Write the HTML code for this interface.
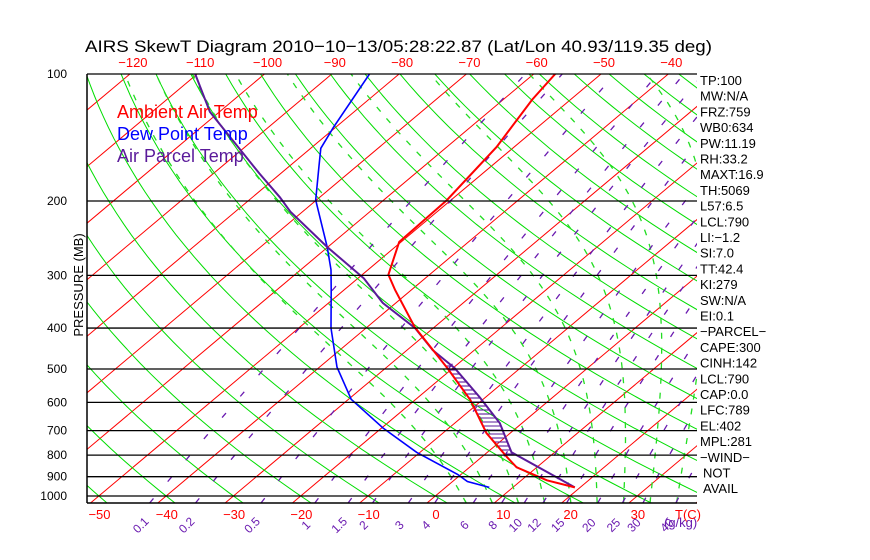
<!DOCTYPE html>
<html><head><meta charset="utf-8"><style>
html,body{margin:0;padding:0;background:#fff;}
svg{display:block;font-family:"Liberation Sans",sans-serif;}
</style></head><body>
<svg id="c" width="870" height="560" viewBox="0 0 870 560" xmlns="http://www.w3.org/2000/svg">
<defs><clipPath id="box"><rect x="87" y="74" width="610" height="429"/></clipPath></defs>
<text x="85" y="52" font-size="17" textLength="627" lengthAdjust="spacingAndGlyphs" fill="#000">AIRS SkewT Diagram 2010−10−13/05:28:22.87 (Lat/Lon 40.93/119.35 deg)</text>
<g id="grid" clip-path="url(#box)"></g>
<g id="series" clip-path="url(#box)"></g>
<g id="axes"></g>
<text x="117" y="118" font-size="18" fill="#ff0000">Ambient Air Temp</text>
<text x="117" y="140" font-size="18" fill="#0000ff">Dew Point Temp</text>
<text x="117" y="162" font-size="18" fill="#5a1a9a">Air Parcel Temp</text>
<text transform="translate(83,285) rotate(-90)" font-size="13" text-anchor="middle" fill="#000">PRESSURE (MB)</text>
<g id="side"></g>
</svg>
<script>
// ---- data ----
const pressureTicks=[100,200,300,400,500,600,700,800,900,1000];
const topTempTicks=[-120,-110,-100,-90,-80,-70,-60,-50,-40];
const bottomTempTicks=[-50,-40,-30,-20,-10,0,10,20,30];
const mixRatios=[0.1,0.2,0.5,1,1.5,2,3,4,6,8,10,12,15,20,25,30,40];
const tempP=[954,918,855,809,710,592,497,398,325,299,250,199,149,115,100];
const tempT=[19.2,13.8,7.0,3.8,-3.5,-11.8,-20.9,-32.9,-42.4,-46.1,-50.3,-50.6,-52.6,-55.7,-56.8];
const dewP=[954,924,889,788,690,590,495,400,325,291,257,199,166,150,134,100];
const dewT=[6.5,2.2,-0.5,-10.5,-19.8,-29.6,-37.4,-45.2,-51.9,-55.5,-60.1,-70.1,-75.5,-78.5,-80.3,-84.4];
const parcelP=[954,788,672,583,498,451,400,349,305,257,212,196,172,123,100];
const parcelT=[19.2,3.6,-3.3,-10.9,-19.7,-26.2,-32.7,-41.9,-49.1,-60.1,-71.8,-75.9,-83.2,-101.4,-110.3];
const sideLabels=["TP:100","MW:N/A","FRZ:759","WB0:634","PW:11.19","RH:33.2","MAXT:16.9","TH:5069","L57:6.5","LCL:790","LI:−1.2","SI:7.0","TT:42.4","KI:279","SW:N/A","EI:0.1","−PARCEL−","CAPE:300","CINH:142","LCL:790","CAP:0.0","LFC:789","EL:402","MPL:281","−WIND−","NOT","AVAIL"];

// ---- axes ----
const NS="http://www.w3.org/2000/svg";
const BOT=503,TOP=74,LEFT=87,RIGHT=697;
function yOf(p){return 74+422*Math.log10(p/100);}
function xOf(T,y){return 427+6.73*T+1.19*(503-y);}
const pBot=100*Math.pow(10,(BOT-74)/422);
function mk(tag,attrs,parent){const e=document.createElementNS(NS,tag);for(const k in attrs)e.setAttribute(k,attrs[k]);parent.appendChild(e);return e;}
const grid=document.getElementById('grid'),series=document.getElementById('series'),axes=document.getElementById('axes'),side=document.getElementById('side');
function pathFromTP(fn,p0,p1,n){let d="";for(let i=0;i<=n;i++){const p=p0*Math.pow(p1/p0,i/n);const T=fn(p);const y=yOf(p);d+=(i?"L":"M")+xOf(T,y).toFixed(1)+","+y.toFixed(1);}return d;}

// isotherms
for(let T=-140;T<=50;T+=10){
  const y0=BOT,y1=TOP;
  const l=mk('line',{x1:xOf(T,y0),y1:y0,x2:xOf(T,y1),y2:y1,stroke:'#ff0000','stroke-width':1},grid);
  
  
}
// dry adiabats
for(let th=-60;th<=200;th+=10){
  const d=pathFromTP(p=>(th+273.15)*Math.pow(p/1000,0.2857)-273.15,pBot,100,40);
  const e=mk('path',{d:d,fill:'none',stroke:'#00dd00','stroke-width':1},grid);
  
  
}
// moist adiabats
function es(T){return 6.112*Math.exp(17.67*T/(T+243.5));}
function moist(T1000){
  const pts=[];
  function step(p0,p1,T){const n=60;let p=p0;for(let i=0;i<n;i++){const pn=p0*Math.pow(p1/p0,(i+1)/n);const dp=pn-p;const Tk=T+273.15;const rs=0.622*es(T)/(p-es(T));const dTdp=(287*Tk+2.5e6*rs)/(1004+2.5e6*2.5e6*rs*0.622/(287*Tk*Tk))/p;T+=dTdp*dp;p=pn;pts.push([p,T]);}return T;}
  let T=T1000;step(1000,pBot,T);const dn=pts.splice(0);dn.reverse();
  pts.push(...dn);pts.push([1000,T1000]);step(1000,100,T1000);
  let d="";pts.forEach((q,i)=>{const y=yOf(q[0]);d+=(i?"L":"M")+xOf(q[1],y).toFixed(1)+","+y.toFixed(1);});return d;
}
for(let t=4;t<=40;t+=4){
  const e=mk('path',{d:moist(t),fill:'none',stroke:'#22dd22','stroke-width':1.3,'stroke-dasharray':'6,9'},grid);
  
  
}
// mixing ratio lines
function tdFromW(w,p){const e=w*p/(622+w);const l=Math.log(e/6.112);return 243.5*l/(17.67-l);}
mixRatios.forEach(w=>{
  const e=mk('path',{d:pathFromTP(p=>tdFromW(w,p),pBot,100,30),fill:'none',stroke:'#6a1ab0','stroke-width':1.3,'stroke-dasharray':'6,22'},grid);
  
  
  const x=xOf(tdFromW(w,pBot),BOT);
  const t=mk('text',{transform:`translate(${(x-6).toFixed(1)},528) rotate(-45)`,'font-size':12,fill:'#6a1ab0','text-anchor':'middle'},axes);
  t.textContent=String(w);
  
  
});
{const t=mk('text',{x:664,y:527,'font-size':13,fill:'#6a1ab0'},axes);t.textContent="(g/kg)";

}

// pressure lines + labels
pressureTicks.forEach(p=>{
  const y=yOf(p);
  const l=mk('line',{x1:LEFT,y1:y,x2:RIGHT,y2:y,stroke:'#000','stroke-width':1.3},axes);
  
  
  const t=mk('text',{x:67,y:y+4,'font-size':12,'text-anchor':'end',fill:'#000'},axes);
  t.textContent=String(p);
  
  
});
{const l=mk('line',{x1:LEFT,y1:BOT,x2:RIGHT,y2:BOT,stroke:'#000','stroke-width':1.5},axes);


const l2=mk('line',{x1:LEFT,y1:TOP,x2:LEFT,y2:BOT,stroke:'#000','stroke-width':1.5},axes);

}
topTempTicks.forEach(T=>{
  const t=mk('text',{x:xOf(T,TOP)+3,y:67,'font-size':13,'text-anchor':'middle',fill:'#ff0000'},axes);
  t.textContent=String(T).replace('-','−');
  
  
});
bottomTempTicks.forEach(T=>{
  const t=mk('text',{x:xOf(T,BOT)+9,y:519,'font-size':13,'text-anchor':'middle',fill:'#ff0000'},axes);
  t.textContent=String(T).replace('-','−');
  
  
});
{const t=mk('text',{x:688,y:519,'font-size':13,'text-anchor':'middle',fill:'#ff0000'},axes);t.textContent="T(C)";

}

// ---- series ----
function lineFrom(P,T){return P.map((p,i)=>{const y=yOf(p);return (i?"L":"M")+xOf(T[i],y).toFixed(1)+","+y.toFixed(1);}).join("");}
function interpT(P,T,p){for(let i=0;i<P.length-1;i++){if(p<=P[i]&&p>=P[i+1]){const f=(Math.log(P[i])-Math.log(p))/(Math.log(P[i])-Math.log(P[i+1]));return T[i]+f*(T[i+1]-T[i]);}}return null;}
for(let y=366;y<=454;y+=4){
  const p=100*Math.pow(10,(y-74)/422);
  const a=interpT(tempP,tempT,p),b=interpT(parcelP,parcelT,p);
  if(a===null||b===null)continue;
  const xa=xOf(a,y),xb=xOf(b,y);
  if(xb-xa>1){
    const h=mk('line',{x1:xa,y1:y,x2:xb,y2:y,stroke:'#5a1a9a','stroke-width':1.1},series);
    
    
  }
}
{const e=mk('path',{d:lineFrom(dewP,dewT),fill:'none',stroke:'#0000ff','stroke-width':1.6},series);

}
{const e=mk('path',{d:lineFrom(parcelP,parcelT),fill:'none',stroke:'#5a1a9a','stroke-width':2},series);

}
{const e=mk('path',{d:lineFrom(tempP,tempT),fill:'none',stroke:'#ff0000','stroke-width':2},series);

}

// side labels
sideLabels.forEach((s,i)=>{
  const t=mk('text',{x:(s==="NOT"||s==="AVAIL")?703:700,y:85+i*15.7,'font-size':13,fill:'#000'},side);
  t.textContent=s;
  
  
});
</script>
</body></html>
